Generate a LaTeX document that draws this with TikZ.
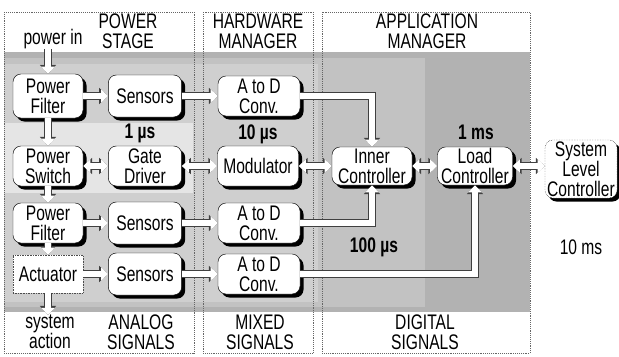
\documentclass[tikz,border=0pt]{standalone}
\usepackage{fontspec}
\setmainfont{Liberation Sans}[FakeStretch=0.74]
\usetikzlibrary{arrows.meta,shadows}

\begin{document}
\begin{tikzpicture}[
  x=0.3mm, y=-0.3mm,
  font=\fontsize{18}{17}\selectfont,
  block/.style={
    draw, fill=white, rounded corners=2.4mm, align=center,
    minimum width=22mm, minimum height=12.6mm, inner sep=1pt,
    drop shadow={shadow xshift=3pt, shadow yshift=-3pt, opacity=1, fill=black}
  },
  plain/.style={align=center, inner sep=0pt},
  timing/.style={font=\fontsize{18}{17}\selectfont\bfseries, inner sep=0pt},
  column/.style={draw=black!60, densely dotted, semithick},
  flow/.style={
    line width=4.6pt, white, -{Triangle[length=6pt,width=11pt]},
    preaction={draw=black!75, line width=6pt, -{Triangle[length=7.6pt,width=13.5pt]}}
  },
  biflow/.style={
    line width=4.6pt, white, {Triangle[length=6pt,width=11pt]}-{Triangle[length=6pt,width=11pt]},
    preaction={draw=black!75, line width=6pt,
      {Triangle[length=7.6pt,width=13.5pt]}-{Triangle[length=7.6pt,width=13.5pt]}}
  }
]
  \useasboundingbox (0,0) rectangle (619,356);

  % timing regions
  \fill[black!30] (4,52) rectangle (530,312);
  \fill[black!24] (4,58) rectangle (425,307);
  \fill[black!19] (4,64) rectangle (318,302);
  \fill[black!10] (4,123) rectangle (193,193);

  \draw[column] (4,12) rectangle (194,353);
  \draw[column] (203,12) rectangle (313,353);
  \draw[column] (322,12) rectangle (530,353);

  % headers
  \node[plain] (pwrin) at (53,39) {power in};
  \node[plain] (hps) at (128,31) {POWER\\STAGE};
  \node[plain] (hhw) at (258,31) {HARDWARE\\MANAGER};
  \node[plain] (hap) at (427,31) {APPLICATION\\MANAGER};

  \node[plain] (sysact) at (50,332) {system\\action};
  \node[plain] (fana) at (141,332) {ANALOG\\SIGNALS};
  \node[plain] (fmix) at (260,332) {MIXED\\SIGNALS};
  \node[plain] (fdig) at (425,332) {DIGITAL\\SIGNALS};

  % blocks
  \node[block, minimum width=21mm, minimum height=13.2mm] (pf1) at (48,96) {Power\\Filter};
  \node[block] (sen1) at (145,96) {Sensors};
  \node[block, minimum width=24.6mm, minimum height=12mm] (ad1) at (259,96) {A to D\\Conv.};

  \node[block, minimum width=21mm, minimum height=12mm] (ps) at (48,166) {Power\\Switch};
  \node[block, minimum height=12mm] (gd) at (145,166) {Gate\\Driver};
  \node[block, minimum width=24.3mm, minimum height=12mm] (mod) at (258,166) {Modulator};
  \node[block, minimum width=24mm, minimum height=11.4mm] (inner) at (372,166) {Inner\\Controller};
  \node[block, minimum width=22.5mm, minimum height=11.4mm] (load) at (475,166) {Load\\Controller};
  \node[block, densely dotted, minimum width=21.6mm, minimum height=17.4mm] (slc) at (581,169) {System\\Level\\Controller};

  \node[block, minimum width=21mm, minimum height=12mm] (pf2) at (48,223) {Power\\Filter};
  \node[block] (sen2) at (145,223) {Sensors};
  \node[block, minimum width=24.6mm, minimum height=12mm] (ad2) at (259,223) {A to D\\Conv.};

  \node[draw=black!70, densely dotted, fill=white, minimum width=21mm, minimum height=11.4mm, inner sep=1pt] (act) at (48,274) {Actuator};
  \node[block] (sen3) at (145,274) {Sensors};
  \node[block, minimum width=24.6mm, minimum height=12mm] (ad3) at (259,274) {A to D\\Conv.};

  % update rates
  \node[timing] (t1) at (140,133) {1 µs};
  \node[timing] (t2) at (258,134) {10 µs};
  \node[timing] (t3) at (476,132) {1 ms};
  \node[timing] (t4) at (374,247) {100 µs};
  \node[inner sep=0pt] (t5) at (581,247) {10 ms};

  % power path
  \draw[flow] (pwrin.south -| pf1.north) -- (pf1.north);
  \draw[flow] (pf1) -- (ps);
  \draw[flow] (ps) -- (pf2);
  \draw[flow] (pf2) -- (act);
  \draw[flow] (act.south) -- (sysact.north -| act.south);

  % measurement path
  \draw[flow] (pf1) -- (sen1);
  \draw[flow] (sen1) -- (ad1);
  \draw[flow] (pf2) -- (sen2);
  \draw[flow] (sen2) -- (ad2);
  \draw[flow] (act) -- (sen3);
  \draw[flow] (sen3) -- (ad3);
  \draw[flow] (ad1.east) -| (inner.north);
  \draw[flow] (ad2.east) -| (inner.south);
  \draw[flow] (ad3.east) -| (load.south);

  % control path
  \draw[biflow] (ps) -- (gd);
  \draw[biflow] (gd) -- (mod);
  \draw[biflow] (mod) -- (inner);
  \draw[biflow] (inner) -- (load);
  \draw[biflow] (load) -- (slc.west |- load);
\end{tikzpicture}
\end{document}
